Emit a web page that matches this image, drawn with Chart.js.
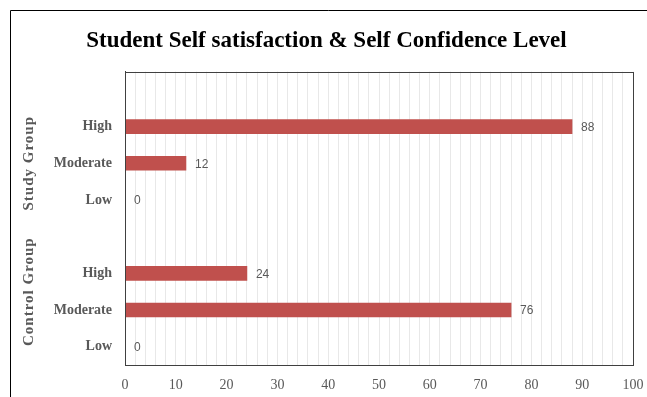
<!DOCTYPE html>
<html>
<head>
<meta charset="utf-8">
<script src="https://cdn.jsdelivr.net/npm/chart.js@4/dist/chart.umd.min.js"></script>
<style>
  html, body { margin: 0; padding: 0; background: #fff; }
  #wrap { width: 647px; height: 397px; position: relative; }
</style>
</head>
<body>
<div id="wrap"><canvas id="chart" width="647" height="397"></canvas></div>
<script>
// --- Data ---
const categories = ['', 'High', 'Moderate', 'Low', '', 'High', 'Moderate', 'Low'];
const scores = [null, 88, 12, 0, null, 24, 76, 0];
const groupNames = ['Study Group', 'Control Group'];
const groupFrom = [1, 4];
const groupTo = [3, 7];
const xMin = 0;
const xMax = 100;

const grey = '#595959';
const serif = '"Liberation Serif", "DejaVu Serif", serif';

// bar end labels
const valueLabels = {
    id: 'valueLabels',
    afterDatasetsDraw(chart) {
        const ctx = chart.ctx;
        const meta = chart.getDatasetMeta(0);
        ctx.save();
        ctx.font = '12px "Liberation Sans", Arial, sans-serif';
        ctx.fillStyle = grey;
        ctx.textAlign = 'left';
        ctx.textBaseline = 'middle';
        meta.data.forEach((bar, i) => {
            if (scores[i] === null) return;
            ctx.fillText(String(scores[i]), bar.x + 9, bar.y + 1);
        });
        ctx.restore();
    }
};

// frame around plot, outer border and group labels
const frames = {
    id: 'frames',
    afterDraw(chart) {
        const ctx = chart.ctx;
        const a = chart.chartArea;
        const y = chart.scales.y;
        ctx.save();
        ctx.strokeStyle = '#404040';
        ctx.lineWidth = 1;
        ctx.strokeRect(Math.round(a.left) + 0.5, Math.round(a.top) + 0.5,
            Math.round(a.right - a.left), Math.round(a.bottom - a.top));

        ctx.strokeStyle = '#000';
        ctx.beginPath();
        ctx.moveTo(10.5, 397);
        ctx.lineTo(10.5, 10.5);
        ctx.lineTo(647, 10.5);
        ctx.stroke();

        ctx.font = 'bold 15px ' + serif;
        ctx.letterSpacing = '1px';
        ctx.fillStyle = grey;
        ctx.textAlign = 'center';
        ctx.textBaseline = 'middle';
        groupNames.forEach((name, i) => {
            const cy = (y.getPixelForValue(groupFrom[i]) + y.getPixelForValue(groupTo[i])) / 2;
            ctx.save();
            ctx.translate(29, cy);
            ctx.rotate(-Math.PI / 2);
            ctx.fillText(name, 0, 0);
            ctx.restore();
        });
        ctx.restore();
    }
};

const chart = new Chart(document.getElementById('chart'), {
    type: 'bar',
    data: {
        labels: categories,
        datasets: [{
            data: scores,
            backgroundColor: '#C0504D',
            barThickness: 14
        }]
    },
    options: {
        indexAxis: 'y',
        responsive: false,
        animation: false,
        layout: { padding: { left: 20, right: 14, top: 0, bottom: 0 } },
        plugins: {
            legend: { display: false },
            tooltip: { enabled: false },
            title: {
                display: true,
                text: 'Student Self satisfaction & Self Confidence Level',
                color: '#000',
                font: { family: serif, size: 23, weight: 'bold' },
                padding: { top: 27, bottom: 17 }
            }
        },
        scales: {
            x: {
                min: xMin,
                max: xMax,
                afterFit: (s) => { s.height = 32; s.paddingRight = 0; s.paddingLeft = 0; },
                ticks: {
                    stepSize: 2,
                    autoSkip: false,
                    maxRotation: 0,
                    padding: 12,
                    color: grey,
                    font: { family: serif, size: 14 },
                    callback: (v) => (v % 10 === 0 ? v : '')
                },
                grid: { color: '#e8e8e8', drawTicks: false },
                border: { color: '#404040' }
            },
            y: {
                afterFit: (s) => { s.width = 105; },
                ticks: {
                    padding: 13,
                    color: grey,
                    font: { family: serif, size: 14, weight: 'bold' }
                },
                grid: { display: false, drawTicks: false },
                border: { color: '#404040' }
            }
        }
    },
    plugins: [valueLabels, frames]
});
</script>
</body>
</html>
